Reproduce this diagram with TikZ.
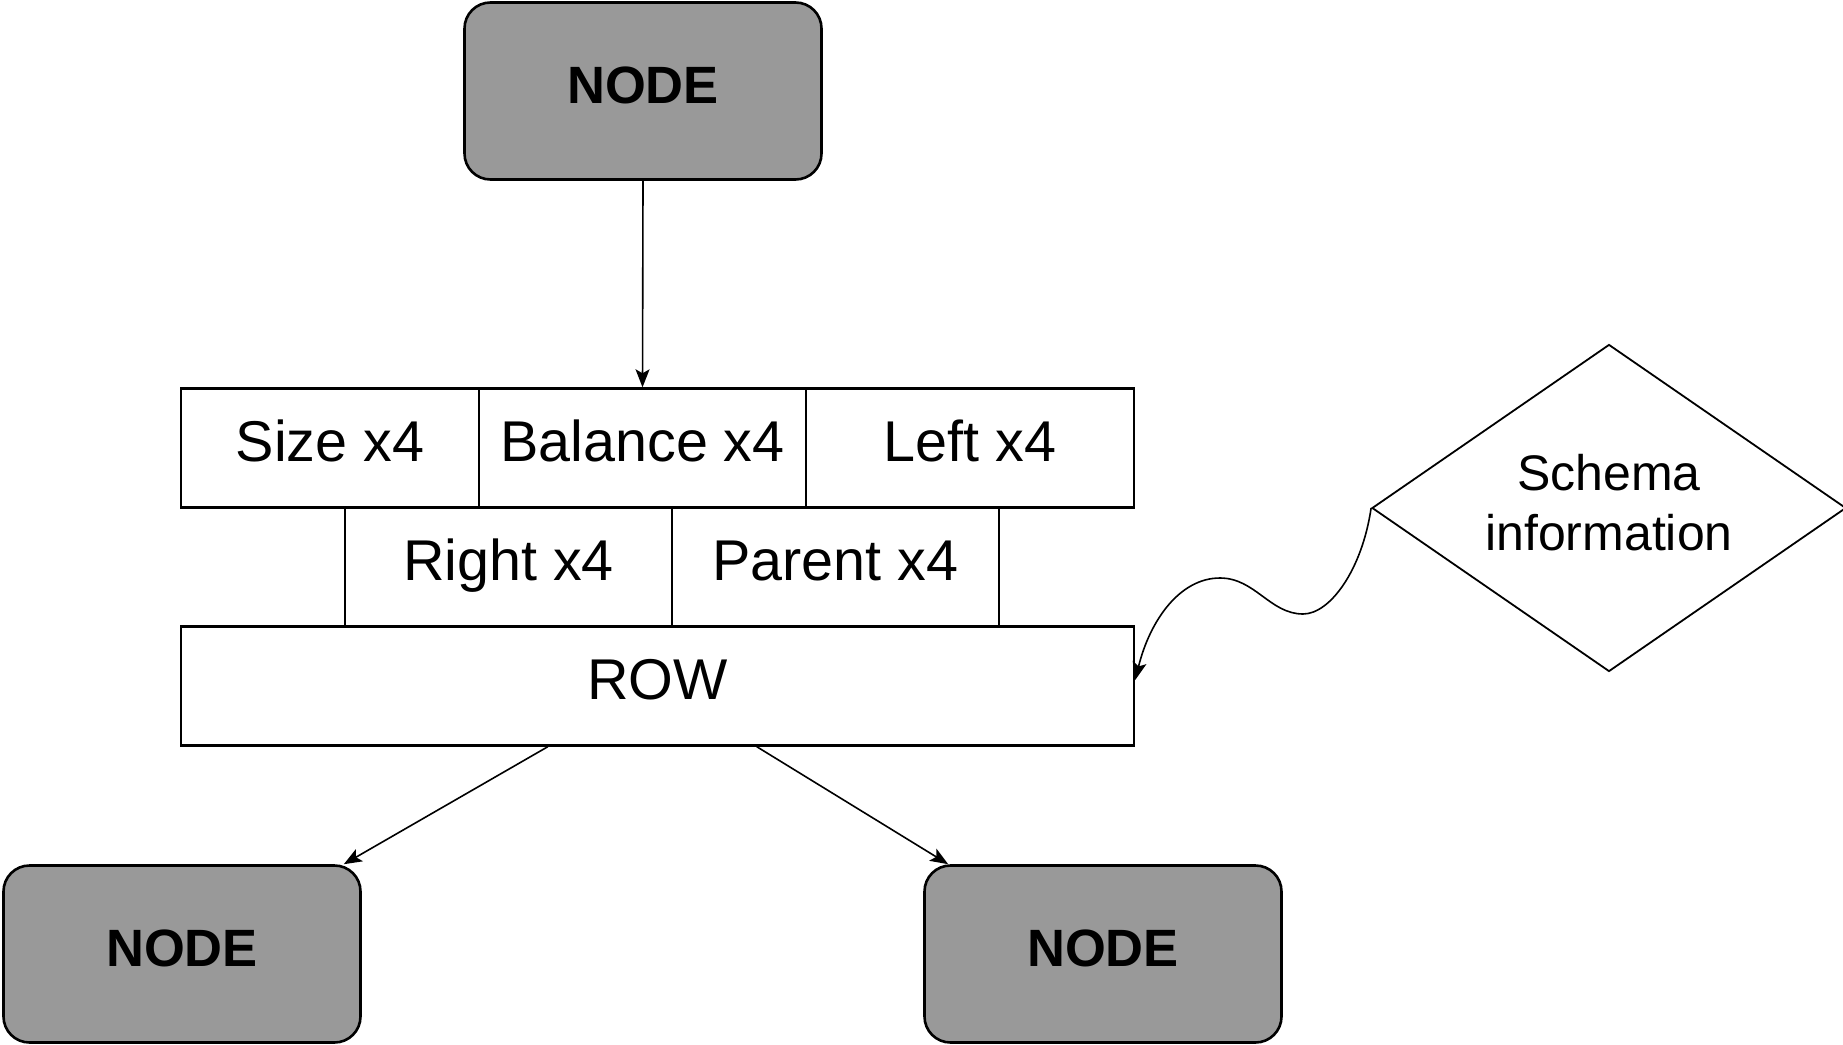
\documentclass[tikz,border=0pt]{standalone}
\usepackage{fontspec}
\setmainfont{Liberation Sans}
\usetikzlibrary{shapes.geometric,arrows.meta}
\definecolor{nodegray}{HTML}{999999}
\begin{document}
\begin{tikzpicture}[x=1pt,y=-1pt,
  treenode/.style={draw=black,line width=2.6pt,fill=nodegray,rounded corners=26pt,
    minimum width=357pt,minimum height=177pt,inner sep=0pt,
    font=\fontsize{52.5}{62}\selectfont\bfseries,text height=37.5pt,text depth=12pt},
  cell/.style={draw=black,line width=2.4pt,minimum height=119pt,inner sep=0pt,
    font=\fontsize{57.5}{68}\selectfont,text height=41pt,text depth=14pt},
  conn/.style={line width=1.6pt,-{Stealth[length=18pt,width=14pt,inset=4pt]}}
]
\useasboundingbox (0,0) rectangle (1843,1044);
\fill[white] (0,0) rectangle (1843,1044);

\node[treenode] (top) at (643,91) {NODE};
\node[treenode] (bl) at (182,954) {NODE};
\node[treenode] (br) at (1103,954) {NODE};

\node[cell,minimum width=298pt] (size) at (330,448) {Size x4};
\node[cell,minimum width=327pt] (balance) at (642.5,448) {Balance x4};
\node[cell,minimum width=328pt] (left) at (970,448) {Left x4};
\node[cell,minimum width=327pt] (right) at (508.5,567) {Right x4};
\node[cell,minimum width=327pt] (parent) at (835.5,567) {Parent x4};
\node[cell,minimum width=953pt] (row) at (657.5,686) {ROW};

\node[diamond,draw=black,line width=1.8pt,inner sep=0pt,
  minimum width=474pt,minimum height=327pt,
  label={[align=center,font=\fontsize{50}{60}\selectfont,yshift=5pt]center:Schema\\information}] (schema) at (1609,508) {};

\draw[conn] (top.south) -- (balance.north);
\draw[conn] ([xshift=368pt]row.south west) -- ([xshift=-18pt]bl.north east);
\draw[conn] ([xshift=577pt]row.south west) -- ([xshift=25pt]br.north west);
\draw[conn] (schema.west) .. controls (1362,570) and (1330,614) .. (1303,614)
  .. controls (1270,614) and (1255,578) .. (1220,578)
  .. controls (1180,578) and (1150,620) .. ([yshift=6pt]row.east);
\end{tikzpicture}
\end{document}
